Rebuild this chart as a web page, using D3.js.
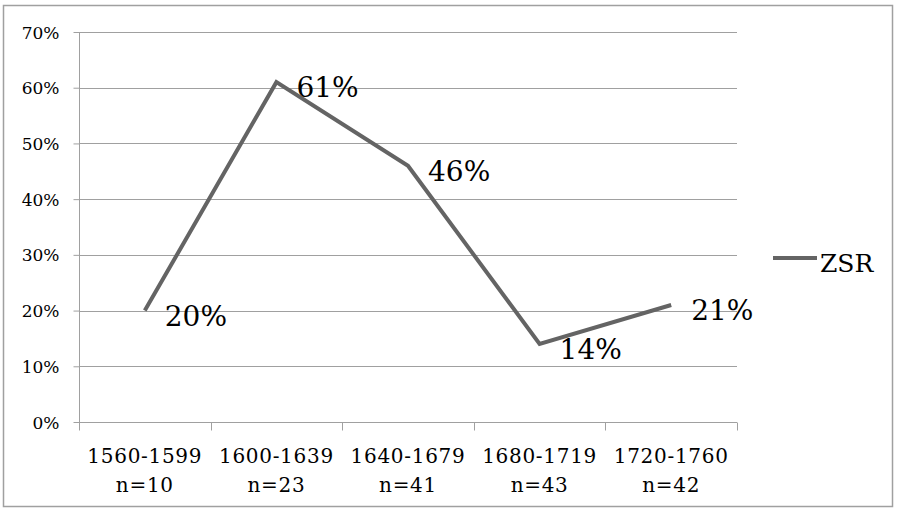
<!DOCTYPE html>
<html><head><meta charset="utf-8">
<script src="https://cdn.jsdelivr.net/npm/d3@7"></script>
<style>body{margin:0;background:#fff}svg{display:block}text{font-family:"DejaVu Serif",serif;fill:#000}</style>
</head><body><svg id="c" width="897" height="510"></svg>
<script>
const categories = ["1560-1599", "1600-1639", "1640-1679", "1680-1719", "1720-1760"];
const counts = ["n=10", "n=23", "n=41", "n=43", "n=42"];
const values = [0.20, 0.61, 0.46, 0.14, 0.21];
const yTicks = [0, 0.1, 0.2, 0.3, 0.4, 0.5, 0.6, 0.7];
const seriesName = "ZSR";

const svg = d3.select("#c");
svg.append("rect").attr("x",3.5).attr("y",5.5).attr("width",889).attr("height",501)
  .attr("fill","#fff").attr("stroke","#a0a0a0").attr("stroke-width",1.5);

const L=79, R=737, T=32, B=422;
const x = d3.scaleBand().domain(categories).range([L,R]);
const y = d3.scaleLinear().domain([0,0.7]).range([B,T]);

// gridlines
svg.append("g").selectAll("line").data(yTicks.slice(1)).join("line")
  .attr("x1",L).attr("x2",R).attr("y1",d=>Math.round(y(d))+0.5).attr("y2",d=>Math.round(y(d))+0.5)
  .attr("stroke","#a0a0a0").attr("stroke-width",1);

// y axis
const ya = svg.append("g").attr("transform",`translate(${L+0.5},0)`)
  .call(d3.axisLeft(y).tickValues(yTicks).tickFormat(d3.format(".0%")).tickSize(6).tickPadding(14));
ya.select(".domain").attr("stroke","#a0a0a0").attr("d",`M0,${T}V${B}`);
ya.selectAll(".tick line").attr("stroke","#a0a0a0");
ya.selectAll(".tick text").attr("font-family","DejaVu Serif").attr("font-size",17).attr("fill","#000")
  .attr("dy","0.36em");

// x axis
const xa = svg.append("g").attr("transform",`translate(0,${B+0.5})`)
  .call(d3.axisBottom(x).tickSize(0).tickFormat(""));
xa.select(".domain").attr("stroke","#a0a0a0").attr("d",`M${L},0H${R}`);
const bounds = categories.map(c=>x(c)).concat([R]);
xa.selectAll(".bt").data(bounds).join("line").attr("class","bt")
  .attr("x1",d=>Math.round(d)+0.5).attr("x2",d=>Math.round(d)+0.5).attr("y1",0).attr("y2",8)
  .attr("stroke","#a0a0a0");
const lab = svg.append("g").selectAll("text").data(categories).join("text")
  .attr("x",d=>x(d)+x.bandwidth()/2).attr("text-anchor","middle")
  .attr("font-size",20).attr("letter-spacing",0.7);
lab.append("tspan").attr("x",d=>x(d)+x.bandwidth()/2).attr("y",463).text(d=>d);
lab.append("tspan").attr("x",d=>x(d)+x.bandwidth()/2).attr("y",492).text((d,i)=>counts[i]);

// line
const pts = categories.map((c,i)=>[x(c)+x.bandwidth()/2, y(values[i])]);
svg.append("path").attr("d",d3.line()(pts)).attr("fill","none")
  .attr("stroke","#646464").attr("stroke-width",4).attr("stroke-linejoin","miter");

// data labels
svg.append("g").selectAll("text").data(values).join("text")
  .attr("x",(d,i)=>pts[i][0]+20).attr("y",(d,i)=>pts[i][1]+15)
  .attr("font-size",28).text(d=>d3.format(".0%")(d));

// legend
svg.append("line").attr("x1",773).attr("x2",817).attr("y1",258).attr("y2",258)
  .attr("stroke","#646464").attr("stroke-width",4);
svg.append("text").attr("x",820).attr("y",272).attr("font-size",25).text(seriesName);
</script></body></html>
